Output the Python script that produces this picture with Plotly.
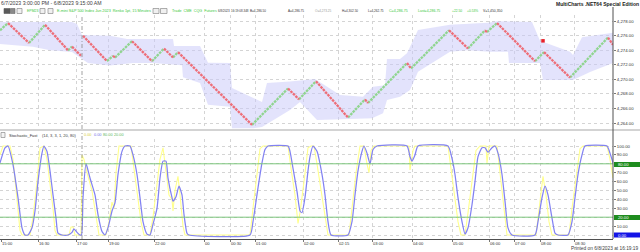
import plotly.graph_objects as go

# ---------------- data ----------------
# Renko turning points (bar position, price)
renko_bar = [0, 8, 29, 45, 68, 72, 81, 83, 107, 113, 115, 132, 152, 164, 173, 178, 252, 288, 299, 316,
             348, 365, 368, 407, 411, 449, 468, 485, 487, 497, 535, 544, 570, 608, 613]
renko_price = [4276.75, 4277.75, 4275.0, 4277.5, 4274.0, 4274.5, 4273.25, 4276.0, 4272.5, 4273.25,
               4273.0, 4275.25, 4272.5, 4274.25, 4273.0, 4273.75, 4263.75, 4268.75, 4267.25, 4269.75,
               4264.75, 4267.25, 4266.75, 4272.25, 4271.5, 4276.75, 4274.25, 4276.75, 4276.5, 4277.75,
               4272.5, 4273.75, 4270.25, 4275.75, 4274.75]
session_break_leg = 6          # no bricks drawn between turning point 6 and 7
session_break_bar = 82

# Envelope band
band_up_bar = [0, 72, 77, 82, 110, 127, 173, 174, 200, 208, 230, 232, 262, 267, 290, 315, 340, 363, 373,
               385, 387, 400, 407, 418, 450, 488, 497, 532, 540, 570, 573, 582, 613]
band_up_price = [4277.9, 4277.9, 4277.6, 4276.1, 4276.0, 4275.55, 4275.55, 4274.6, 4274.6, 4272.3,
                 4272.25, 4268.8, 4266.9, 4269.5, 4269.7, 4270.05, 4267.85, 4267.6, 4269.0, 4269.2,
                 4272.8, 4272.8, 4273.6, 4276.8, 4277.5, 4277.8, 4278.0, 4277.9, 4275.3, 4273.8,
                 4273.35, 4275.8, 4276.4]
band_lo_bar = [0, 33, 50, 72, 82, 88, 110, 133, 153, 182, 183, 200, 208, 230, 232, 253, 262, 290, 300,
               317, 340, 372, 383, 387, 400, 410, 418, 450, 467, 490, 508, 509, 540, 543, 573, 590, 613]
band_lo_price = [4274.85, 4274.5, 4274.0, 4273.75, 4272.8, 4272.25, 4271.9, 4272.25, 4272.25, 4271.95,
                 4270.3, 4269.5, 4266.5, 4266.25, 4263.3, 4263.3, 4263.45, 4265.8, 4266.9, 4264.4,
                 4264.5, 4264.65, 4265.35, 4267.15, 4267.6, 4268.55, 4271.05, 4273.8, 4274.0, 4273.8,
                 4273.8, 4272.25, 4272.25, 4269.9, 4269.9, 4271.0, 4272.25]

marker_bar = [543]
marker_price = [4275.3]

# Stochastic slow line (blue)
d_bar = [0, 5, 8, 13, 18, 22, 25, 28, 32, 35, 38, 42, 44, 47, 50, 53, 56, 58, 62, 68, 72, 74, 77, 80,
         81.5, 83, 86, 87, 90, 95, 98, 102, 105, 108, 112, 115, 118, 122, 125, 130, 133, 137, 140,
         143, 147, 150, 153, 157, 160, 163, 166, 168, 172, 173, 176, 179, 182, 184, 187, 189, 250,
         253, 258, 262, 265, 268, 288, 290, 293, 297, 300, 302, 305, 308, 310, 313, 317, 322, 325,
         328, 331, 348, 352, 355, 358, 362, 364, 367, 370, 373, 377, 407, 410, 412, 415, 418, 448,
         452, 455, 458, 462, 465, 468, 472, 475, 478, 482, 485, 488, 492, 495, 498, 502, 505, 508,
         512, 535, 538, 542, 545, 548, 552, 555, 558, 568, 572, 575, 578, 582, 585, 607, 610, 613]
d_val = [81, 98, 100, 79, 42, 8, 0, 0, 8, 27, 60, 92, 100, 94, 72, 45, 19, 2, 0, 0, 3, 7, 3, 0,
         0, 42, 80, 77, 64, 45, 23, 4, 0, 8, 27, 36, 68, 94, 100, 100, 90, 68, 42,
         15, 1, 0, 12, 30, 64, 83, 83, 64, 42, 38, 43, 55, 45, 23, 2, 0, 0,
         15, 53, 81, 96, 100, 100, 94, 75, 49, 27, 25, 42, 72, 88, 100, 94, 68, 45,
         15, 0, 0, 15, 45, 72, 94, 100, 92, 80, 96, 100, 100, 88, 83, 90, 100, 100,
         86, 68, 42, 15, 1, 8, 34, 60, 88, 98, 98, 93, 98, 100, 92, 68, 38, 8,
         0, 0, 15, 42, 55, 45, 19, 2, 0, 0, 15, 42, 68, 90, 100, 100, 92, 81]

# Stochastic fast line (yellow)
k_bar = [0, 3, 10, 13, 17, 20, 22, 30, 33, 37, 40, 44, 47, 50, 53, 55, 57, 69, 71, 73, 75, 81, 82, 84,
         87, 92, 96, 99, 106, 109, 112, 114, 116, 119, 131, 134, 138, 141, 144, 150, 153, 157, 160,
         163, 166, 169, 172, 173, 175, 178, 180, 183, 185, 250, 253, 257, 260, 263, 288, 291, 295,
         298, 300, 304, 308, 311, 314, 317, 321, 325, 328, 349, 352, 356, 360, 364, 367, 369, 371,
         374, 409, 410, 413, 415, 448, 451, 455, 458, 461, 465, 468, 472, 476, 480, 486, 487, 489,
         497, 500, 503, 507, 536, 539, 543, 546, 549, 552, 569, 572, 576, 580, 583, 607, 610, 613]
k_val = [90, 100, 100, 85, 40, 5, 0, 0, 20, 60, 98, 100, 85, 60, 30, 5, 0, 0, 9, 9, 0, 0, 90, 85,
         70, 50, 20, 0, 0, 15, 37, 30, 70, 100, 100, 75, 45, 15, 0, 0, 20, 60, 85,
         98, 70, 45, 40, 27, 50, 66, 45, 10, 0, 0, 30, 70, 97, 100, 100, 75, 45,
         13, 25, 60, 98, 100, 100, 80, 50, 20, 0, 0, 30, 70, 100, 100, 80, 70, 95,
         100, 100, 73, 95, 100, 100, 75, 45, 15, 0, 0, 25, 60, 95, 100, 100, 81, 100,
         100, 70, 35, 0, 0, 30, 66, 45, 15, 0, 0, 30, 65, 97, 100, 100, 85, 64]

stoch_levels = [80, 20]
stoch_level_labels = ["80.00", "20.00"]
stoch_last_label = "0.00"

# Axis ticks
time_tick_bar = [1, 38, 76, 108, 154, 204, 230, 255, 303, 338, 372, 412, 452, 489, 514, 540, 574]
time_tick_text = ["15:00", "16:30", "17:00", "19:00", "22:00", "00", "00:30", "01:00", "02:00", "02:15",
                  "03:00", "04:00", "05:00", "06:00", "07:00", "08:00", "08:30"]
price_ticks = [4264, 4266, 4268, 4270, 4272, 4274, 4276, 4278]
stoch_ticks = [0, 10, 20, 30, 40, 50, 60, 70, 80, 90, 100]

# ---------------- figure ----------------
FONT = "Liberation Sans"
PW, TOP, BOT = 613.0, 15.0, 239.0
PH = BOT - TOP


def px(x):
    return x / PW


def py(y):
    return (BOT - y) / PH


RED = "#EE6E78"
GREEN = "#90D590"
GRID = "#D4D4D4"

fig = go.Figure()

fig.add_trace(go.Scatter(
    x=band_up_bar + band_lo_bar[::-1], y=band_up_price + band_lo_price[::-1],
    fill="toself", fillcolor="rgba(200,200,250,0.5)", line=dict(width=0),
    mode="lines", hoverinfo="skip", xaxis="x", yaxis="y"))

up_x, up_y, dn_x, dn_y = [], [], [], []
for i in range(len(renko_bar) - 1):
    if i == session_break_leg:
        continue
    if renko_price[i + 1] > renko_price[i]:
        up_x += [renko_bar[i], renko_bar[i + 1], None]
        up_y += [renko_price[i], renko_price[i + 1], None]
    else:
        dn_x += [renko_bar[i], renko_bar[i + 1], None]
        dn_y += [renko_price[i], renko_price[i + 1], None]

fig.add_trace(go.Scatter(x=up_x, y=up_y, mode="lines",
                         line=dict(color=GREEN, width=2.3, dash="2.6px,0.9px"), xaxis="x", yaxis="y"))
fig.add_trace(go.Scatter(x=dn_x, y=dn_y, mode="lines",
                         line=dict(color=RED, width=2.3, dash="2.6px,0.9px"), xaxis="x", yaxis="y"))
fig.add_trace(go.Scatter(x=marker_bar, y=marker_price, mode="markers",
                         marker=dict(color="#E8202A", size=3.5, symbol="square"), xaxis="x", yaxis="y"))

fig.add_trace(go.Scatter(x=k_bar, y=k_val, mode="lines",
                         line=dict(color="#FFFF8C", width=1.1), xaxis="x2", yaxis="y2"))
fig.add_trace(go.Scatter(x=d_bar, y=d_val, mode="lines",
                         line=dict(color="#8282F2", width=1.25, shape="spline", smoothing=0.5),
                         xaxis="x2", yaxis="y2"))

shapes = []
for lv in stoch_levels:
    shapes.append(dict(type="line", xref="x2", yref="y2", x0=0, x1=613, y0=lv, y1=lv,
                       line=dict(color="#7CC67C", width=1)))
# session break
shapes.append(dict(type="line", xref="x", yref="paper", x0=session_break_bar, x1=session_break_bar,
                   y0=py(129), y1=py(15), line=dict(color="#8A8A8A", width=0.8, dash="4px,2px,1px,2px")))
shapes.append(dict(type="line", xref="x", yref="paper", x0=session_break_bar, x1=session_break_bar,
                   y0=py(239), y1=py(131), line=dict(color="#8A8A8A", width=0.8, dash="4px,2px,1px,2px")))
# panel separator
shapes.append(dict(type="line", xref="paper", yref="paper", x0=0, x1=px(640), y0=py(130), y1=py(130),
                   line=dict(color="#A8A8A8", width=1.2)))
# right axis line
shapes.append(dict(type="line", xref="paper", yref="paper", x0=px(613), x1=px(613), y0=py(239), y1=py(7),
                   line=dict(color="#505050", width=1)))
# toolbar boxes
for (x0, x1, fc, lc) in [(4, 10, "#5A5A5A", "#5A5A5A"), (10.5, 15, "#8A8A8A", "#6A6A6A"),
                         (17, 22, "#F0F0F0", "#7A7A7A"), (40, 45, "#F0F0F0", "#7A7A7A"),
                         (48, 53, "#F0F0F0", "#7A7A7A"), (153, 159, "#F0F0F0", "#7A7A7A"),
                         (160.5, 167, "#F0F0F0", "#7A7A7A")]:
    shapes.append(dict(type="rect", xref="paper", yref="paper", x0=px(x0), x1=px(x1), y0=py(13.5),
                       y1=py(8.5), fillcolor=fc, line=dict(color=lc, width=0.6)))
shapes.append(dict(type="rect", xref="paper", yref="paper", x0=px(1), x1=px(5), y0=py(137.5), y1=py(132.5),
                   fillcolor="#F4F4F4", line=dict(color="#7A7A7A", width=0.6)))
# right-axis value boxes
for (y0, y1, fc) in [(162, 167, "#1E8C1E"), (215, 220, "#1E8C1E"), (232.5, 237.5, "#1414E6")]:
    shapes.append(dict(type="rect", xref="paper", yref="paper", x0=px(614), x1=px(640), y0=py(y1),
                       y1=py(y0), fillcolor=fc, line=dict(width=0), layer="above"))

ann = []


def txt(x, y, s, size=4.6, color="#333333", anchor="left", bold=False):
    ann.append(dict(xref="paper", yref="paper", x=px(x), y=py(y), text=("<b>%s</b>" % s) if bold else s,
                    showarrow=False, xanchor=anchor, yanchor="middle",
                    font=dict(family=FONT, size=size, color=color), borderpad=0))


LG = "#3CC83C"
txt(0, 3.5, "6/7/2023 3:00:00 PM - 6/8/2023 9:15:00 AM", size=5.2, color="#404040")
txt(639.5, 3.8, "MultiCharts .NET64 Special Edition", size=5.0, color="#202020", anchor="right", bold=True)
txt(26, 11, "EPM23", size=3.5, color=LG)
txt(56, 11, "E-mini S&P 500 Index Jun 2023&nbsp;&nbsp;Renko 1pt, 15 Minutes", size=3.8, color=LG)
txt(171, 11, "Trade&nbsp;&nbsp;CME&nbsp;&nbsp;CQG&nbsp;&nbsp;Futures", size=3.7, color=LG)
txt(217, 11, "6/8/2023", size=3.0)
txt(230, 11, "16:19:08.348", size=3.0)
txt(249, 11, "B=4,286.50", size=3.1)
txt(287, 11, "A=4,286.75", size=3.1)
txt(314, 11, "O=4,273.25", size=3.1, color="#9A9A9A")
txt(341, 11, "H=4,302.50", size=3.1)
txt(367, 11, "L=4,262.75", size=3.1)
txt(388, 11, "C=4,286.75", size=3.6, color=LG)
txt(417, 11, "Last=4,286.75", size=3.5, color=LG)
txt(451, 11, "+22.50", size=3.3, color=LG)
txt(466, 11, "+0.53%", size=3.3, color=LG)
txt(482, 11, "V=1,450,350", size=3.4)

txt(8, 135, "Stochastic_Fast", size=4.0, color="#303030")
txt(41, 135, "(14, 3, 3, 1, 20, 80)", size=4.0, color="#404040")
txt(83, 135, "0.00", size=3.8, color="#D8D040")
txt(93, 135, "0.00", size=3.8, color="#6F6FE8")
txt(102, 135, "80.00", size=3.8, color="#5CB85C")
txt(113, 135, "20.00", size=3.8, color="#5CB85C")

txt(616.5, 164.5, stoch_level_labels[0], size=4.2, color="#FFFFFF")
txt(616.5, 217.5, stoch_level_labels[1], size=4.2, color="#FFFFFF")
txt(616.5, 235, stoch_last_label, size=4.2, color="#FFFFFF")
txt(639.5, 248, "Printed on 6/8/2023 at 16:19:19", size=4.8, color="#404040", anchor="right")

axis_font = dict(family=FONT, size=4.3, color="#333333")
boxed = set(stoch_levels + [0])
fig.update_layout(
    width=640, height=252, margin=dict(l=0, r=27, t=15, b=13),
    paper_bgcolor="white", plot_bgcolor="white", showlegend=False,
    xaxis=dict(domain=[0, 1], range=[0, 613], anchor="y", tickvals=time_tick_bar, showticklabels=False,
               showgrid=True, gridcolor=GRID, griddash="dot", gridwidth=0.8, zeroline=False, ticks=""),
    yaxis=dict(domain=[py(129), 1], range=[4263.18, 4278.85], anchor="x", side="right",
               tickvals=price_ticks, ticktext=["{:,.2f}".format(v) for v in price_ticks],
               showgrid=True, gridcolor=GRID, griddash="dot", gridwidth=0.8, zeroline=False,
               ticks="outside", ticklen=2, tickcolor="#777", tickfont=axis_font),
    xaxis2=dict(domain=[0, 1], range=[0, 613], anchor="y2", tickvals=time_tick_bar, ticktext=time_tick_text,
                ticklabelposition="outside right", showgrid=True, gridcolor=GRID, griddash="dot",
                gridwidth=0.8, zeroline=False, showline=True, linecolor="#505050", linewidth=1,
                ticks="outside", ticklen=2, tickcolor="#777", tickfont=dict(family=FONT, size=4.1, color="#333")),
    yaxis2=dict(domain=[0, py(139)], range=[-4.49, 107.87], anchor="x2", side="right",
                tickvals=stoch_ticks,
                ticktext=["" if v in boxed else "{:.2f}".format(v) for v in stoch_ticks],
                showgrid=True, gridcolor=GRID, griddash="dot", gridwidth=0.8, zeroline=False,
                ticks="outside", ticklen=2, tickcolor="#777", tickfont=axis_font),
    shapes=shapes, annotations=ann,
)

fig.write_html("out.html", config={"displayModeBar": False})
